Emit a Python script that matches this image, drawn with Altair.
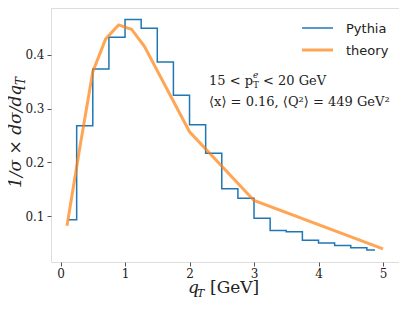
import altair as alt
import pandas as pd

# Pythia histogram (bin centres, step at midpoints)
pythia_x = [0.125, 0.375, 0.625, 0.875, 1.125, 1.375, 1.625, 1.875, 2.125, 2.375,
            2.625, 2.875, 3.125, 3.375, 3.625, 3.875, 4.125, 4.375, 4.625, 4.875]
pythia_y = [0.093, 0.268, 0.374, 0.433, 0.466, 0.450, 0.387, 0.325, 0.270, 0.217,
            0.151, 0.133, 0.096, 0.073, 0.071, 0.055, 0.050, 0.045, 0.041, 0.037]

# Theory curve
theory_x = [0.1, 0.3, 0.5, 0.7, 0.9, 1.1, 1.3, 2.0, 3.0, 5.0]
theory_y = [0.082, 0.228, 0.369, 0.430, 0.456, 0.448, 0.416, 0.257, 0.129, 0.039]

x_ticks = [0, 1, 2, 3, 4, 5]
y_ticks = [0.1, 0.2, 0.3, 0.4]

BLUE = "#1f77b4"
ORANGE = "#ff7f0e"
SERIF = "DejaVu Serif"
SANS = "DejaVu Sans"
TXT = "#222222"

W, H = 348, 254

xs = alt.Scale(domain=[-0.148, 5.248], nice=False, zero=False)
ys = alt.Scale(domain=[0.0145, 0.4875], nice=False, zero=False)

xaxis = alt.Axis(values=x_ticks, title=None, grid=False, labelFont=SERIF, labelFontSize=12,
                 labelColor=TXT, tickColor="#555", tickSize=4, domain=False, labelPadding=2,
                 format="d")
yaxis = alt.Axis(values=y_ticks, title=None, grid=False, labelFont=SERIF, labelFontSize=12,
                 labelColor=TXT, tickColor="#555", tickSize=4, domain=False, labelPadding=3,
                 format=".1f")

pdf = pd.DataFrame({"x": pythia_x, "y": pythia_y})
tdf = pd.DataFrame({"x": theory_x, "y": theory_y})

hist = alt.Chart(pdf).mark_line(interpolate="step", color=BLUE, strokeWidth=1.5).encode(
    x=alt.X("x:Q", scale=xs, axis=xaxis),
    y=alt.Y("y:Q", scale=ys, axis=yaxis),
)
theory = alt.Chart(tdf).mark_line(color=ORANGE, strokeWidth=3, opacity=0.7).encode(
    x=alt.X("x:Q", scale=xs),
    y=alt.Y("y:Q", scale=ys),
)

one = pd.DataFrame({"a": [0]})

def txt(text, x, y, size, font=SERIF, style="normal", align="left", angle=0, baseline="alphabetic"):
    return alt.Chart(one).mark_text(text=text, font=font, fontSize=size, fontStyle=style,
                                    align=align, baseline=baseline, angle=angle, color=TXT).encode(
        x=alt.value(x), y=alt.value(y))

def rule(x1, x2, y, color, w, op=1.0):
    return alt.Chart(one).mark_rule(color=color, strokeWidth=w, opacity=op).encode(
        x=alt.value(x1), x2=alt.value(x2), y=alt.value(y))

legend = [
    rule(251, 282, 20, BLUE, 1.5),
    rule(251, 282, 42, ORANGE, 3, 0.7),
    txt("Pythia", 295, 25, 13, font=SANS),
    txt("theory", 295, 47, 13, font=SANS),
]

annot = [
    txt("15 < p", 158, 77, 13),
    txt("e", 202, 70, 9, style="italic"),
    txt("T", 202, 80, 9),
    txt("< 20 GeV", 212, 77, 13),
    txt("⟨x⟩ = 0.16, ⟨Q²⟩ = 449 GeV²", 158, 98, 13),
]

titles = [
    txt("q", 137, 285, 17, style="italic"),
    txt("T", 146, 289, 11, style="italic"),
    txt("[GeV]", 159, 285, 17),
    txt("1/σ × dσ/dq", -30, 180, 17, style="italic", angle=270),
    txt("T", -26, 77, 12, style="italic", angle=270),
]

chart = alt.layer(hist, theory, *legend, *annot, *titles).properties(
    width=W, height=H,
    autosize=alt.AutoSizeParams(type="none"),
    padding={"left": 43, "top": 0, "right": 0, "bottom": 39},
).configure_view(stroke="#555", strokeWidth=1.2).configure(background="white")

chart.save("out.html", embed_options={"renderer": "svg", "actions": False})
